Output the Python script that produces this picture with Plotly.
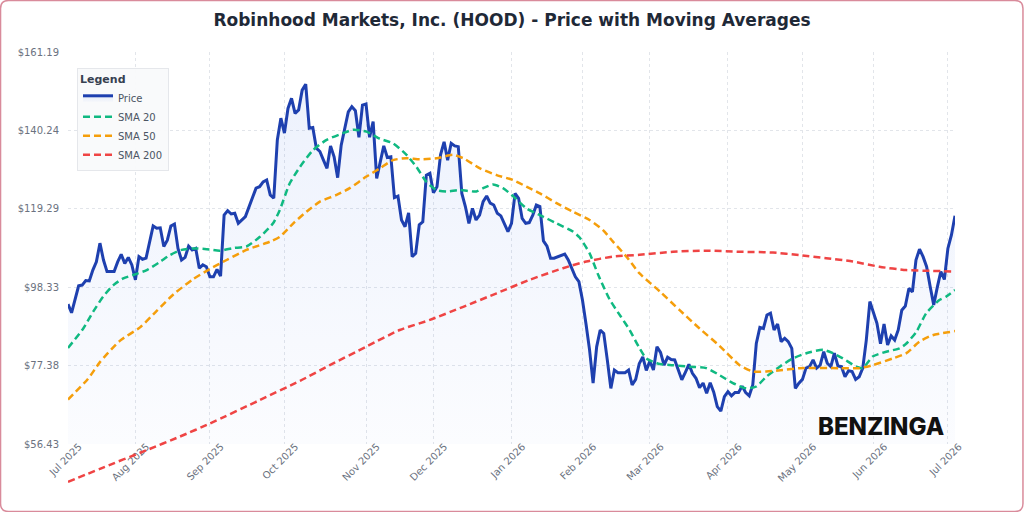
import plotly.graph_objects as go

# ---------------- data (x = trading-day index from 2025-07-07) ----------------
MONTH_TICK_DAY = [0, 19, 40, 61, 84, 103, 125, 145, 164, 186, 207, 227, 248]
MONTH_LABELS = ["Jul 2025", "Aug 2025", "Sep 2025", "Oct 2025", "Nov 2025", "Dec 2025",
                "Jan 2026", "Feb 2026", "Mar 2026", "Apr 2026", "May 2026", "Jun 2026", "Jul 2026"]
Y_TICKS = [56.43, 77.38, 98.33, 119.29, 140.24, 161.19]
Y_TICK_LABELS = ["$56.43", "$77.38", "$98.33", "$119.29", "$140.24", "$161.19"]

PRICE_DAY = [0, 1, 3, 4, 5, 6, 7, 8, 9, 10, 11, 13, 14, 15, 16, 17, 18, 19, 20, 21, 22, 24, 25, 26,
             27, 28, 29, 30, 31, 32, 33, 34, 35, 36, 37, 38, 39, 40, 41, 42, 43, 44, 45, 46, 47, 48,
             50, 51, 53, 54, 55, 56, 57, 58, 59, 60, 61, 62, 63, 64, 65, 66, 67, 68, 69, 70, 71, 72,
             73, 74, 75, 76, 77, 79, 80, 81, 82, 83, 84, 85, 86, 87, 88, 89, 90, 91, 92, 93, 94, 95,
             96, 97, 98, 99, 100, 101, 102, 103, 104, 105, 106, 107, 108, 109, 110, 111, 112, 113,
             114, 115, 116, 117, 118, 119, 120, 121, 122, 123, 124, 125, 126, 127, 128, 129, 130,
             131, 132, 133, 134, 135, 136, 137, 139, 140, 141, 142, 143, 144, 145, 146, 147, 148,
             149, 150, 151, 152, 153, 154, 155, 157, 158, 159, 160, 161, 162, 163, 164, 165, 166,
             167, 168, 169, 170, 171, 172, 173, 174, 175, 176, 177, 178, 179, 180, 181, 182, 183,
             184, 185, 186, 187, 188, 189, 190, 191, 192, 193, 194, 195, 196, 197, 198, 199, 200,
             201, 202, 203, 204, 205, 206, 207, 208, 209, 210, 211, 212, 213, 214, 215, 216, 217,
             218, 219, 220, 221, 222, 223, 224, 225, 226, 227, 228, 229, 230, 231, 232, 233, 234,
             235, 236, 237, 238, 239, 240, 241, 242, 243, 244, 245, 246, 247, 248, 249, 250]
PRICE = [93.8, 91.5, 98.7, 98.9, 100.1, 100.0, 102.9, 105.1, 110.1, 105.6, 102.5, 102.5, 105.1,
         107.1, 104.7, 106.3, 104.3, 100.3, 106.5, 105.8, 106.1, 114.7, 114.1, 114.2, 109.2, 110.9,
         114.7, 115.2, 108.7, 105.6, 106.3, 109.3, 108.3, 108.7, 103.4, 104.3, 103.8, 101.1, 101.1,
         103.1, 101.3, 117.6, 118.8, 117.9, 118.1, 115.4, 117.2, 119.9, 124.8, 125.2, 126.5, 127.0,
         123.0, 122.1, 137.7, 143.5, 139.5, 146.1, 148.8, 144.8, 145.7, 151.0, 152.6, 140.8, 141.0,
         135.5, 134.6, 132.3, 130.1, 136.1, 133.2, 127.6, 136.3, 145.2, 146.6, 145.5, 138.4, 147.0,
         147.3, 138.4, 142.6, 127.4, 131.9, 136.1, 133.0, 133.2, 122.3, 122.7, 116.3, 114.5, 118.2,
         106.5, 107.4, 115.0, 115.8, 128.3, 128.8, 123.6, 125.2, 133.7, 137.2, 132.3, 136.8, 136.1,
         135.9, 123.4, 119.9, 115.4, 119.4, 116.3, 117.6, 121.2, 122.7, 120.8, 120.3, 118.1, 117.4,
         115.4, 113.2, 115.4, 123.4, 122.1, 116.7, 115.4, 115.6, 117.6, 120.3, 119.9, 110.7, 109.3,
         106.1, 106.1, 106.9, 107.2, 105.6, 103.4, 101.1, 99.8, 94.9, 88.5, 81.6, 72.7, 82.4, 86.9,
         86.0, 78.9, 71.3, 76.2, 75.5, 75.5, 76.2, 72.2, 73.7, 77.9, 79.7, 76.1, 78.6, 76.2, 82.4,
         80.9, 77.5, 79.6, 79.0, 78.9, 76.4, 73.6, 75.6, 77.7, 75.3, 74.0, 71.5, 72.7, 70.0, 72.8,
         70.3, 66.4, 65.2, 69.1, 70.4, 69.3, 70.2, 70.2, 71.9, 70.2, 69.3, 72.2, 83.3, 87.6, 87.3,
         90.9, 91.4, 86.9, 88.5, 83.8, 84.7, 83.8, 82.0, 71.3, 72.7, 73.7, 76.7, 77.1, 78.9, 76.7,
         77.5, 81.1, 78.0, 77.1, 80.7, 77.3, 77.1, 74.4, 76.0, 75.8, 73.7, 74.4, 76.7, 84.2, 94.5,
         91.4, 88.7, 83.2, 88.5, 82.9, 85.3, 84.2, 86.9, 92.2, 93.3, 98.0, 97.1, 105.6, 108.5,
         106.5, 103.8, 98.5, 93.6, 98.3, 102.5, 100.4, 108.7, 112.3, 117.4]

SMA20_DAY = [0, 4.3, 7.1, 9.9, 12.8, 15.6, 18.4, 22.2, 25.9, 28.7, 32.0, 35.3, 39.1, 42.8, 46.6,
             50.3, 54.1, 57.8, 59.7, 62.5, 65.4, 69.1, 72.9, 77.5, 80.4, 84.1, 87.9, 91.6, 95.4,
             98.2, 101.0, 103.9, 106.7, 110.4, 115.1, 117.0, 119.8, 122.6, 125.4, 129.2, 133.0,
             137.7, 142.3, 144.2, 147.0, 149.5, 152.7, 155.8, 158.3, 161.1, 163.0, 166.8, 170.5,
             175.2, 179.9, 183.7, 187.4, 191.2, 194.0, 196.8, 200.6, 204.3, 208.1, 212.8, 215.6,
             218.4, 222.2, 224.0, 226.8, 230.6, 234.4, 236.3, 239.1, 241.9, 245.6, 247.5, 250]
SMA20 = [82.1, 87.3, 91.8, 95.8, 98.9, 100.7, 101.6, 102.9, 105.1, 106.9, 108.3, 108.7, 108.5,
         108.1, 108.8, 109.2, 111.8, 115.4, 119.0, 126.1, 130.5, 135.0, 137.7, 139.5, 140.4, 139.9,
         138.0, 136.8, 133.7, 130.5, 126.5, 124.3, 123.9, 124.3, 123.9, 124.8, 125.8, 124.8, 122.7,
         119.4, 117.6, 115.4, 113.2, 111.6, 107.4, 101.5, 95.0, 90.5, 86.9, 82.0, 79.3, 77.8, 77.5,
         77.1, 76.7, 74.8, 72.7, 71.3, 71.8, 74.4, 77.1, 79.3, 80.7, 81.6, 80.7, 79.3, 77.1, 76.7,
         79.8, 81.1, 82.0, 83.3, 86.4, 91.4, 94.9, 95.8, 97.6]

SMA50_DAY = [0, 5.6, 9.0, 14.6, 20.3, 25.0, 29.7, 35.3, 40.0, 44.7, 50.3, 56.9, 59.7, 63.5, 67.2,
             71.0, 75.7, 79.4, 84.1, 87.9, 91.6, 95.4, 99.2, 103.9, 108.5, 111.4, 116.1, 120.8,
             125.4, 129.2, 133.0, 137.7, 142.3, 147.0, 150.8, 153.6, 157.4, 161.1, 166.8, 172.4,
             178.0, 183.7, 189.3, 193.0, 196.8, 201.5, 206.2, 217.5, 223.1, 226.8, 232.5, 236.3,
             240.0, 243.7, 250]
SMA50 = [68.3, 73.8, 78.3, 84.0, 87.6, 92.0, 96.4, 100.5, 103.2, 105.6, 108.3, 110.5, 111.8, 115.4,
         118.5, 121.2, 123.0, 124.8, 127.9, 130.1, 132.3, 132.8, 132.5, 132.8, 133.7, 132.8, 130.1,
         128.3, 127.0, 125.2, 123.4, 120.8, 118.5, 116.3, 113.6, 110.5, 106.5, 102.0, 97.2, 92.2,
         87.3, 82.6, 77.5, 75.8, 75.8, 76.2, 76.7, 76.7, 76.7, 77.5, 79.3, 80.7, 83.8, 85.5, 86.6]

SMA200_DAY = [0, 9.0, 22.2, 31.5, 40.0, 54.1, 65.4, 73.8, 84.2, 93.5, 102.0, 111.4, 120.8, 130.1,
              139.5, 146.1, 153.6, 161.1, 170.5, 179.9, 189.3, 198.7, 206.2, 213.7, 221.2, 228.7,
              236.3, 243.7, 250]
SMA200 = [46.3, 49.8, 54.8, 58.4, 61.9, 68.2, 73.3, 77.5, 82.5, 86.9, 89.6, 93.1, 96.7, 100.3,
          103.4, 105.2, 106.5, 107.0, 107.8, 108.1, 107.8, 107.6, 106.9, 106.1, 105.2, 103.8,
          102.9, 102.7, 102.5]

# ---------------- geometry (pixels) ----------------
FIG_W, FIG_H = 1024, 512
PLOT_L, PLOT_R = 68, 955.5
PLOT_T, AXIS_B = 52, 444        # main axis bottom
PAPER_B = 490                   # bottom of the overlay area (SMA 200 runs below the axis)
paper_w = PLOT_R - PLOT_L
paper_h = PAPER_B - PLOT_T
Y_MIN, Y_MAX = Y_TICKS[0], Y_TICKS[-1]
units_per_px = (Y_MAX - Y_MIN) / (AXIS_B - PLOT_T)
y2_min = Y_MIN - (PAPER_B - AXIS_B) * units_per_px


def px_x(px):
    return (px - PLOT_L) / paper_w


def px_y(py):
    return (PAPER_B - py) / paper_h


X_RANGE = [0, 250]
DASH = "7px,4px"

fig = go.Figure()
fig.add_trace(go.Scatter(
    x=PRICE_DAY, y=PRICE, mode="lines", name="Price",
    line=dict(color="#1e40af", width=3),
    fill="tozeroy",
    fillgradient=dict(type="vertical",
                      colorscale=[[0, "rgba(59,110,230,0.02)"], [1, "rgba(59,110,230,0.10)"]],
                      start=Y_MIN, stop=Y_MAX),
    xaxis="x", yaxis="y"))
fig.add_trace(go.Scatter(
    x=SMA20_DAY, y=SMA20, mode="lines", name="SMA 20",
    line=dict(color="#10b981", width=2.5, dash=DASH, shape="spline", smoothing=0.6),
    xaxis="x", yaxis="y"))
fig.add_trace(go.Scatter(
    x=SMA50_DAY, y=SMA50, mode="lines", name="SMA 50",
    line=dict(color="#f59e0b", width=2.5, dash=DASH, shape="spline", smoothing=0.6),
    xaxis="x", yaxis="y"))
fig.add_trace(go.Scatter(
    x=SMA200_DAY, y=SMA200, mode="lines", name="SMA 200",
    line=dict(color="#ef4444", width=2.5, dash=DASH, shape="spline", smoothing=0.6),
    xaxis="x2", yaxis="y2"))

tick_font = dict(family="DejaVu Sans", size=10, color="#6b7280")
grid = dict(showgrid=True, gridcolor="#e2e5ea", gridwidth=1, griddash="dot",
            zeroline=False, showline=False, ticks="")

# rounded outer border
x0, x1 = px_x(0.5), px_x(FIG_W - 0.5)
y1, y0 = px_y(0.5), px_y(FIG_H - 0.5)
rx, ry = 8 / paper_w, 8 / paper_h
border_path = (f"M {x0+rx},{y1} L {x1-rx},{y1} Q {x1},{y1} {x1},{y1-ry} "
               f"L {x1},{y0+ry} Q {x1},{y0} {x1-rx},{y0} L {x0+rx},{y0} "
               f"Q {x0},{y0} {x0},{y0+ry} L {x0},{y1-ry} Q {x0},{y1} {x0+rx},{y1} Z")

fig.update_layout(
    width=FIG_W, height=FIG_H,
    margin=dict(l=PLOT_L, r=FIG_W - PLOT_R, t=PLOT_T, b=FIG_H - PAPER_B, pad=0),
    paper_bgcolor="white", plot_bgcolor="rgba(0,0,0,0)",
    font=dict(family="DejaVu Sans", color="#374151"),
    title=dict(text="Robinhood Markets, Inc. (HOOD) - Price with Moving Averages",
               x=0.5, xref="container", xanchor="center",
               y=1 - 20 / FIG_H, yref="container", yanchor="middle",
               font=dict(family="DejaVu Sans", size=17, weight="bold", color="#1f2937")),
    xaxis=dict(domain=[0, 1], range=X_RANGE, anchor="y",
               tickmode="array", tickvals=MONTH_TICK_DAY, ticktext=MONTH_LABELS,
               tickangle=-45, tickfont=tick_font, ticklabelshift=11, ticklabelstandoff=-6,
               **grid),
    yaxis=dict(domain=[px_y(AXIS_B), 1], range=[Y_MIN, Y_MAX], anchor="x",
               tickmode="array", tickvals=Y_TICKS, ticktext=Y_TICK_LABELS,
               tickfont=tick_font, ticklabelstandoff=8, **grid),
    xaxis2=dict(domain=[0, 1], range=X_RANGE, anchor="y2", visible=False),
    yaxis2=dict(domain=[0, 1], range=[y2_min, Y_MAX], anchor="x2", visible=False),
    showlegend=True,
    legend=dict(x=px_x(77), y=px_y(68), xanchor="left", yanchor="top",
                xref="paper", yref="paper",
                bgcolor="rgba(249,250,251,0.95)", bordercolor="#e5e7eb", borderwidth=1,
                font=dict(family="DejaVu Sans", size=10, color="#4b5563"),
                title=dict(text="Legend", font=dict(family="DejaVu Sans", size=11,
                                                     weight="bold", color="#374151")),
                entrywidth=112, entrywidthmode="pixels",
                tracegroupgap=0),
    shapes=[dict(type="path", xref="paper", yref="paper", path=border_path,
                 line=dict(color="#d98b9b", width=1.5), fillcolor="rgba(0,0,0,0)",
                 layer="above")],
    annotations=[dict(text="BENZINGA", xref="paper", yref="paper",
                      x=px_x(881), y=px_y(426), xanchor="center", yanchor="middle",
                      showarrow=False,
                      font=dict(family="Inter", size=24, weight=800, color="#111111"))],
)

fig.write_html("out.html")
